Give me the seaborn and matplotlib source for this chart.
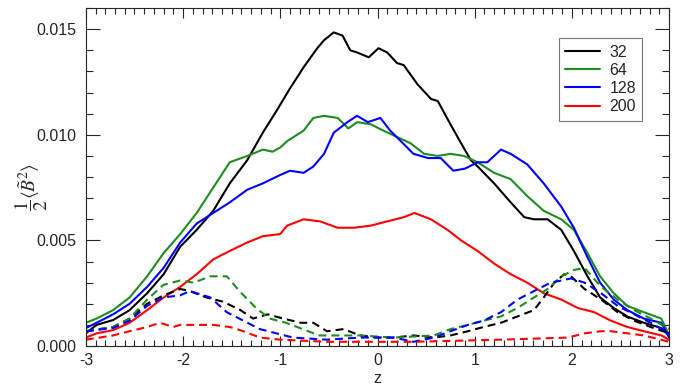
import numpy as np
import matplotlib
matplotlib.use("Agg")
import matplotlib.pyplot as plt
import seaborn as sns
from matplotlib.ticker import MultipleLocator, FormatStrFormatter
from matplotlib.lines import Line2D

# ---- data: z position and 1/2 <B~^2> ----
# solid lines
z_k32 = [-3.0, -2.89, -2.72, -2.55, -2.37, -2.2, -2.03, -1.86, -1.69, -1.52, -1.34, -1.18, -1.03, -0.90,
         -0.76, -0.62, -0.55, -0.45, -0.36, -0.28, -0.21, -0.09, 0.01, 0.10, 0.20, 0.27, 0.41, 0.55, 0.62,
         0.75, 0.86, 0.96, 1.03, 1.2, 1.37, 1.51, 1.61, 1.75, 1.89, 2.02, 2.16, 2.29, 2.43, 2.57, 2.74, 2.92, 3.0]
b_k32 = [0.0006, 0.0010, 0.00123, 0.0017, 0.0025, 0.0034, 0.0047, 0.0055, 0.0064, 0.0077, 0.0088, 0.0101,
         0.0112, 0.0122, 0.0132, 0.0141, 0.01448, 0.01485, 0.0147, 0.0140, 0.0139, 0.01367, 0.0141, 0.0139,
         0.0134, 0.0133, 0.0124, 0.0117, 0.0116, 0.0105, 0.0096, 0.0088, 0.0085, 0.0077, 0.0068, 0.0061,
         0.0060, 0.0060, 0.0055, 0.0045, 0.0033, 0.0023, 0.0018, 0.0014, 0.0011, 0.00085, 0.0005]

z_g64 = [-3.0, -2.89, -2.72, -2.55, -2.37, -2.2, -2.03, -1.86, -1.69, -1.52, -1.34, -1.18, -1.08, -1.0,
         -0.93, -0.76, -0.66, -0.55, -0.41, -0.30, -0.21, -0.07, 0.06, 0.2, 0.34, 0.48, 0.62, 0.75, 0.89,
         1.03, 1.2, 1.37, 1.54, 1.71, 1.89, 2.02, 2.16, 2.29, 2.43, 2.57, 2.74, 2.92, 3.0]
b_g64 = [0.0011, 0.0013, 0.0017, 0.0023, 0.0033, 0.0044, 0.0053, 0.0063, 0.0075, 0.0087, 0.0090, 0.0093,
         0.0092, 0.0094, 0.0097, 0.0102, 0.0108, 0.0109, 0.0108, 0.0103, 0.0106, 0.0105, 0.0102, 0.0099,
         0.0096, 0.0091, 0.0090, 0.0091, 0.0090, 0.0087, 0.0082, 0.0079, 0.0071, 0.0064, 0.0060, 0.0055,
         0.0044, 0.0033, 0.0025, 0.0019, 0.0016, 0.0013, 0.0005]

z_b128 = [-3.0, -2.89, -2.72, -2.55, -2.37, -2.2, -2.03, -1.86, -1.69, -1.52, -1.34, -1.18, -1.0, -0.9,
          -0.76, -0.66, -0.55, -0.45, -0.31, -0.21, -0.1, 0.03, 0.13, 0.24, 0.37, 0.52, 0.65, 0.78, 0.9,
          1.03, 1.13, 1.27, 1.37, 1.54, 1.71, 1.89, 2.02, 2.16, 2.29, 2.43, 2.57, 2.74, 2.92, 3.0]
b_b128 = [0.00085, 0.0011, 0.0015, 0.0020, 0.0028, 0.0037, 0.0049, 0.0058, 0.0063, 0.0068, 0.0074, 0.0077,
          0.0081, 0.0083, 0.0082, 0.0085, 0.0091, 0.0101, 0.0106, 0.0109, 0.0106, 0.0108, 0.0102, 0.0097,
          0.0091, 0.0089, 0.0089, 0.0083, 0.0084, 0.0087, 0.0087, 0.0093, 0.0091, 0.0086, 0.0077, 0.0066,
          0.0056, 0.0042, 0.0030, 0.0022, 0.0017, 0.0013, 0.0011, 0.0004]

z_r200 = [-3.0, -2.89, -2.72, -2.55, -2.37, -2.2, -2.03, -1.86, -1.69, -1.52, -1.34, -1.18, -1.0, -0.93,
          -0.76, -0.59, -0.41, -0.24, -0.07, 0.1, 0.27, 0.38, 0.55, 0.72, 0.86, 1.03, 1.2, 1.37, 1.54, 1.71,
          1.89, 2.06, 2.23, 2.4, 2.57, 2.74, 2.92, 3.0]
b_r200 = [0.0004, 0.0006, 0.00075, 0.0011, 0.0017, 0.0023, 0.0028, 0.0034, 0.0041, 0.0045, 0.0049, 0.0052,
          0.0053, 0.0057, 0.0060, 0.0059, 0.0056, 0.0056, 0.0057, 0.0059, 0.0061, 0.0063, 0.0060, 0.0055,
          0.0050, 0.0045, 0.0039, 0.0034, 0.0030, 0.0025, 0.0022, 0.0018, 0.0016, 0.0012, 0.0009, 0.0007,
          0.0005, 0.0003]

# dashed lines
zd_k32 = [-3.0, -2.72, -2.55, -2.37, -2.2, -2.03, -1.93, -1.76, -1.59, -1.41, -1.28, -1.13, -0.97, -0.79,
          -0.66, -0.52, -0.35, -0.18, 0.0, 0.17, 0.37, 0.58, 0.75, 0.93, 1.09, 1.27, 1.44, 1.61, 1.71, 1.82,
          1.92, 1.99, 2.13, 2.3, 2.47, 2.64, 2.81, 3.0]
bd_k32 = [0.0007, 0.0009, 0.0013, 0.0020, 0.0024, 0.0027, 0.0026, 0.0023, 0.0021, 0.0017, 0.0013, 0.0015,
          0.0013, 0.0011, 0.0011, 0.0007, 0.0008, 0.0005, 0.0004, 0.0004, 0.0005, 0.0004, 0.0005, 0.0007,
          0.0009, 0.0011, 0.0014, 0.0017, 0.0023, 0.0030, 0.0034, 0.0033, 0.0027, 0.0022, 0.0016, 0.0012,
          0.0009, 0.0006]

zd_g64 = [-3.0, -2.72, -2.55, -2.37, -2.2, -2.03, -1.89, -1.72, -1.55, -1.42, -1.25, -1.11, -0.94, -0.77,
          -0.6, -0.35, -0.18, 0.17, 0.58, 0.75, 0.93, 1.09, 1.27, 1.44, 1.61, 1.75, 1.89, 2.02, 2.13, 2.3,
          2.47, 2.64, 2.81, 3.0]
bd_g64 = [0.0007, 0.0009, 0.0013, 0.0022, 0.0029, 0.0031, 0.0030, 0.0033, 0.0033, 0.0026, 0.0018, 0.0013,
          0.0011, 0.0008, 0.0005, 0.0005, 0.0005, 0.0004, 0.0005, 0.0008, 0.0010, 0.0012, 0.0014, 0.0018,
          0.0023, 0.0027, 0.0033, 0.0036, 0.0037, 0.0028, 0.0022, 0.0017, 0.0013, 0.0008]

zd_b128 = [-3.0, -2.72, -2.55, -2.37, -2.2, -2.03, -1.93, -1.72, -1.55, -1.38, -1.21, -1.04, -0.87, -0.52,
           -0.18, 0.17, 0.37, 0.58, 0.75, 0.93, 1.09, 1.27, 1.44, 1.61, 1.78, 1.89, 1.99, 2.13, 2.3, 2.47,
           2.64, 2.81, 3.0]
bd_b128 = [0.0007, 0.00085, 0.0012, 0.0019, 0.0023, 0.0024, 0.0026, 0.0023, 0.0016, 0.0012, 0.0008, 0.0006,
           0.0004, 0.0003, 0.0004, 0.0004, 0.0002, 0.0004, 0.0007, 0.0010, 0.0012, 0.0016, 0.0022, 0.0026,
           0.0030, 0.0031, 0.0032, 0.0030, 0.0025, 0.0019, 0.0015, 0.0011, 0.0006]

zd_r200 = [-3.0, -2.72, -2.55, -2.37, -2.24, -2.1, -2.03, -1.86, -1.69, -1.52, -1.38, -1.21, -1.0, -0.52,
           0.0, 0.37, 1.27, 1.96, 2.13, 2.3, 2.4, 2.57, 2.74, 3.0]
bd_r200 = [0.0003, 0.0005, 0.0007, 0.0009, 0.0011, 0.0009, 0.0010, 0.0010, 0.0010, 0.0009, 0.0007, 0.0004,
           0.0003, 0.0002, 0.0002, 0.0002, 0.0003, 0.0004, 0.0006, 0.0007, 0.0007, 0.0006, 0.0005, 0.0002]

labels = ["32", "64", "128", "200"]
colors = ["black", "#1f8c1f", "#0000ff", "#ff0000"]

# ---- style ----
sns.set_style("ticks")
plt.rcParams["font.family"] = ["Liberation Sans", "DejaVu Sans"]
plt.rcParams["axes.unicode_minus"] = False
plt.rcParams["mathtext.fontset"] = "stix"

fig = plt.figure(figsize=(6.87, 3.86), dpi=100)
ax = fig.add_axes([0.125, 0.1036, 0.849, 0.8754])

solid = [(z_k32, b_k32), (z_g64, b_g64), (z_b128, b_b128), (z_r200, b_r200)]
dashed = [(zd_k32, bd_k32), (zd_g64, bd_g64), (zd_b128, bd_b128), (zd_r200, bd_r200)]

for (zz, bb), c in zip(solid, colors):
    sns.lineplot(x=zz, y=bb, ax=ax, color=c, lw=1.5, legend=False)
for (zz, bb), c in zip(dashed, colors):
    sns.lineplot(x=zz, y=bb, ax=ax, color=c, lw=1.5, linestyle=(0, (3.8, 2.4)), legend=False)

ax.set_xlim(-3, 3)
ax.set_ylim(0, 0.016)
ax.xaxis.set_major_locator(MultipleLocator(1))
ax.xaxis.set_minor_locator(MultipleLocator(0.1))
ax.yaxis.set_major_locator(MultipleLocator(0.005))
ax.yaxis.set_minor_locator(MultipleLocator(0.001))
ax.xaxis.set_major_formatter(FormatStrFormatter("%d"))
ax.yaxis.set_major_formatter(FormatStrFormatter("%.3f"))
ax.tick_params(which="both", direction="in", top=True, right=True, width=0.8, labelsize=11.5)
ax.tick_params(axis="x", which="major", length=7, pad=5)
ax.tick_params(axis="x", which="minor", length=4)
ax.tick_params(axis="y", which="major", length=10, pad=7)
ax.tick_params(axis="y", which="minor", length=5)
for s in ax.spines.values():
    s.set_linewidth(0.8)

ax.set_xlabel("z", fontsize=11.5, labelpad=2)
ax.set_ylabel(r"$\dfrac{1}{2}\langle\tilde{B}^2\rangle$", fontsize=14)
ax.yaxis.set_label_coords(-0.062, 0.47)

handles = [Line2D([], [], color=c, lw=1.5) for c in colors]
leg = ax.legend(handles, labels, loc="upper right", bbox_to_anchor=(0.954, 0.911), fontsize=11.5,
                frameon=True, fancybox=False, edgecolor="#555555", handlelength=2.15,
                labelspacing=0.2, borderpad=0.4, handletextpad=0.6, borderaxespad=0)
leg.get_frame().set_linewidth(0.8)

fig.savefig("out.png", dpi=100)
